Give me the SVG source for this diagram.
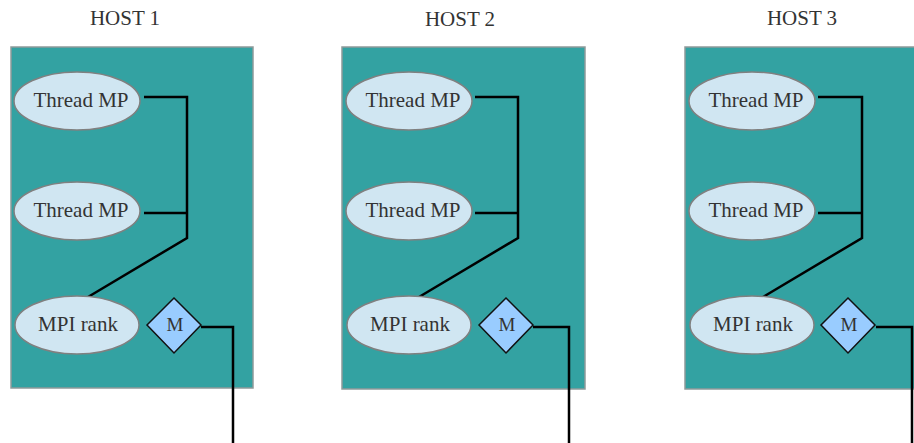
<svg xmlns="http://www.w3.org/2000/svg" width="914" height="443" viewBox="0 0 914 443">
  <style>
    .host { fill: #33a2a2; stroke: #8f9a9a; stroke-width: 1.5; }
    .title { font-family: "Liberation Serif", serif; font-size: 21px; fill: #333; text-anchor: middle; }
    .proc { fill: #d0e6f2; stroke: #808080; stroke-width: 1.5; }
    .label { font-family: "Liberation Serif", serif; font-size: 21px; fill: #333; text-anchor: middle; }
    .mlabel { font-family: "Liberation Serif", serif; font-size: 19px; fill: #333; text-anchor: middle; }
    .port { fill: #99ccff; stroke: #111; stroke-width: 1.5; }
    .wire { fill: none; stroke: #000; stroke-width: 2.5; }
  </style>

  <!-- host containers -->
  <g id="host1">
    <text class="title" x="125" y="25">HOST 1</text>
    <rect class="host" x="11" y="47" width="242" height="341"/>
  </g>
  <g id="host2">
    <text class="title" x="460" y="26">HOST 2</text>
    <rect class="host" x="342" y="47" width="243" height="342"/>
  </g>
  <g id="host3">
    <text class="title" x="802" y="25">HOST 3</text>
    <rect class="host" x="685" y="47" width="235" height="342"/>
  </g>

  <!-- connectors -->
  <g id="connectors">
    <path class="wire" d="M144,97 H187 V238 L88,297 M144,213 H187"/>
    <path class="wire" d="M201,327 H233 V443"/>
    <path class="wire" d="M475,97 H518 V238 L419,297 M475,213 H518"/>
    <path class="wire" d="M533,327 H569 V443"/>
    <path class="wire" d="M818,97 H862 V238 L763,297 M818,213 H862"/>
    <path class="wire" d="M876,327 H912 V443"/>
  </g>

  <!-- host 1 processes -->
  <g id="h1-thread1">
    <ellipse class="proc" cx="77" cy="101" rx="63" ry="29"/>
    <text class="label" x="81" y="107">Thread MP</text>
  </g>
  <g id="h1-thread2">
    <ellipse class="proc" cx="77" cy="211" rx="63" ry="29"/>
    <text class="label" x="81" y="217">Thread MP</text>
  </g>
  <g id="h1-rank">
    <ellipse class="proc" cx="77" cy="325" rx="62" ry="29"/>
    <text class="label" x="78" y="331">MPI rank</text>
  </g>
  <g id="h1-m">
    <polygon class="port" points="174,298 201,325 174,353 147,325"/>
    <text class="mlabel" x="175" y="331">M</text>
  </g>

  <!-- host 2 processes -->
  <g id="h2-thread1">
    <ellipse class="proc" cx="409" cy="101" rx="63" ry="29"/>
    <text class="label" x="413" y="107">Thread MP</text>
  </g>
  <g id="h2-thread2">
    <ellipse class="proc" cx="409" cy="211" rx="63" ry="29"/>
    <text class="label" x="413" y="217">Thread MP</text>
  </g>
  <g id="h2-rank">
    <ellipse class="proc" cx="409" cy="325" rx="62" ry="29"/>
    <text class="label" x="410" y="331">MPI rank</text>
  </g>
  <g id="h2-m">
    <polygon class="port" points="506,298 533,325 506,353 479,325"/>
    <text class="mlabel" x="507" y="331">M</text>
  </g>

  <!-- host 3 processes -->
  <g id="h3-thread1">
    <ellipse class="proc" cx="752" cy="101" rx="63" ry="29"/>
    <text class="label" x="756" y="107">Thread MP</text>
  </g>
  <g id="h3-thread2">
    <ellipse class="proc" cx="752" cy="211" rx="63" ry="29"/>
    <text class="label" x="756" y="217">Thread MP</text>
  </g>
  <g id="h3-rank">
    <ellipse class="proc" cx="752" cy="325" rx="62" ry="29"/>
    <text class="label" x="753" y="331">MPI rank</text>
  </g>
  <g id="h3-m">
    <polygon class="port" points="848,298 875,325 848,353 821,325"/>
    <text class="mlabel" x="849" y="331">M</text>
  </g>
</svg>
